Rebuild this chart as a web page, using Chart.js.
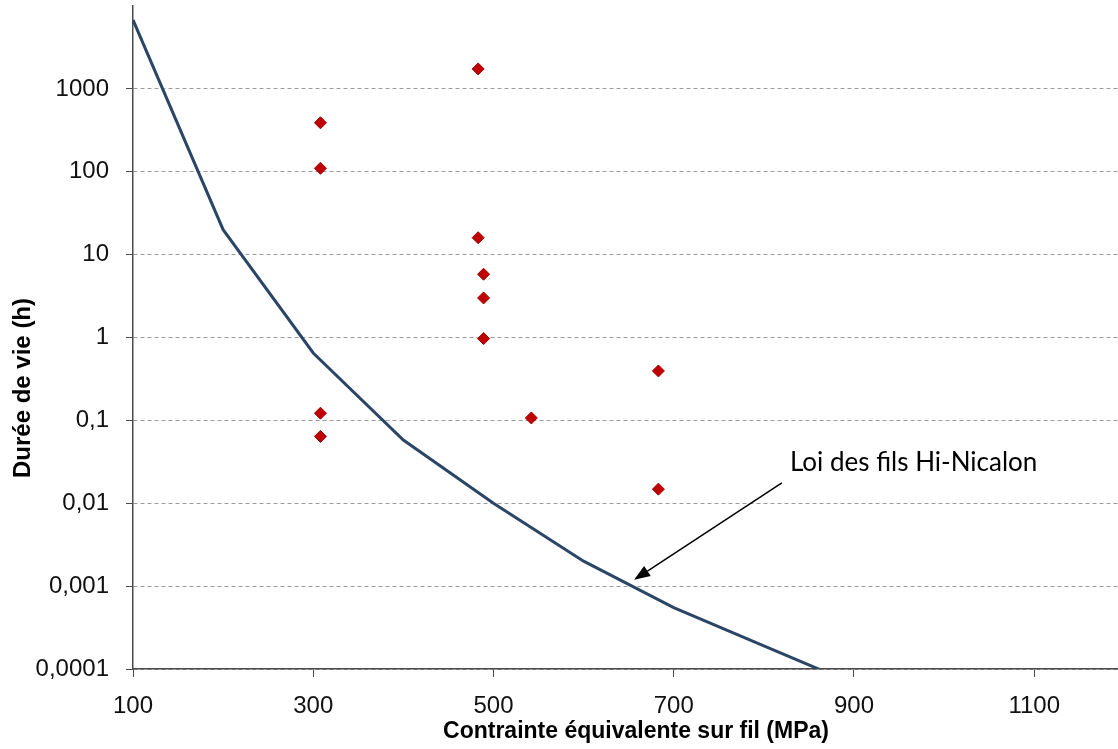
<!DOCTYPE html>
<html>
<head>
<meta charset="utf-8">
<script src="https://cdn.jsdelivr.net/npm/chart.js@4/dist/chart.umd.min.js"></script>
<style>
  html, body { margin: 0; padding: 0; background: #fff; }
  #wrap { width: 1118px; height: 749px; }
</style>
</head>
<body>
<div id="wrap"><canvas id="chart" width="1118" height="749"></canvas></div>
<script>
// law of the Hi-Nicalon fibres (line)
const lawX = [100, 200, 300, 400, 500, 600, 700, 800, 900];
const lawY = [6800, 20, 0.65, 0.058, 0.01, 0.002, 0.00055, 0.00019, 0.000066];

// test results (diamonds)
const testX = [308, 308, 308, 308, 483, 483, 489, 489, 489, 542, 683, 683];
const testY = [390, 110, 0.122, 0.064, 1740, 16, 5.8, 3.0, 0.97, 0.107, 0.395, 0.0148];

const xTicks = [100, 300, 500, 700, 900, 1100];
const yTicks = [0.0001, 0.001, 0.01, 0.1, 1, 10, 100, 1000];

const xTitle = 'Contrainte équivalente sur fil (MPa)';
const yTitle = 'Durée de vie (h)';
const noteText = 'Loi des fils Hi-Nicalon';

// annotation anchors, in data units
const notePos = {x: 829, y: 0.0246};
const arrowFrom = {x: 820, y: 0.0176};
const arrowTo = {x: 656, y: 0.00119};

const AXIS = '#4a4a4a';
const FONT = "'Liberation Sans', Arial, sans-serif";

const toPoints = (xs, ys) => xs.map((x, i) => ({x, y: ys[i]}));

const extras = {
  id: 'extras',
  afterDatasetsDraw(chart) {
    const {ctx, scales: {x, y}} = chart;
    ctx.save();
    ctx.fillStyle = '#000';

    // axis titles
    ctx.font = `bold 23px ${FONT}`;
    ctx.textAlign = 'center';
    ctx.textBaseline = 'alphabetic';
    ctx.fillText(xTitle, 636, 738);

    ctx.save();
    ctx.translate(30, 388);
    ctx.rotate(-Math.PI / 2);
    ctx.font = `bold 24px ${FONT}`;
    ctx.fillText(yTitle, 0, 0);
    ctx.restore();

    // note + arrow
    ctx.font = "26px Lato, 'Open Sans', sans-serif";
    ctx.textAlign = 'left';
    ctx.fillText(noteText, x.getPixelForValue(notePos.x), y.getPixelForValue(notePos.y));

    const x0 = x.getPixelForValue(arrowFrom.x), y0 = y.getPixelForValue(arrowFrom.y);
    const x1 = x.getPixelForValue(arrowTo.x), y1 = y.getPixelForValue(arrowTo.y);
    const ang = Math.atan2(y1 - y0, x1 - x0);
    const head = 16, half = 6;
    const bx = x1 - head * Math.cos(ang), by = y1 - head * Math.sin(ang);
    ctx.strokeStyle = '#000';
    ctx.lineWidth = 1.5;
    ctx.beginPath();
    ctx.moveTo(x0, y0);
    ctx.lineTo(bx, by);
    ctx.stroke();
    ctx.beginPath();
    ctx.moveTo(x1, y1);
    ctx.lineTo(bx + half * Math.sin(ang), by - half * Math.cos(ang));
    ctx.lineTo(bx - half * Math.sin(ang), by + half * Math.cos(ang));
    ctx.closePath();
    ctx.fill();
    ctx.restore();
  }
};

new Chart(document.getElementById('chart').getContext('2d'), {
  data: {
    datasets: [
      {
        type: 'scatter',
        label: 'Essais',
        data: toPoints(testX, testY),
        pointStyle: 'rectRot',
        pointRadius: 6,
        backgroundColor: '#c00000',
        borderColor: '#a00000',
        borderWidth: 1,
        order: 1,
      },
      {
        type: 'line',
        label: 'Loi des fils Hi-Nicalon',
        data: toPoints(lawX, lawY),
        borderColor: '#2b4567',
        borderWidth: 3,
        pointRadius: 0,
        tension: 0,
        clip: 0,
        order: 2,
      },
    ],
  },
  options: {
    responsive: false,
    animation: false,
    events: [],
    layout: {autoPadding: false, padding: {top: 6, right: 0, bottom: 0, left: 0}},
    plugins: {legend: {display: false}, tooltip: {enabled: false}},
    scales: {
      x: {
        type: 'linear',
        min: 100,
        max: 1193,
        afterBuildTicks: (s) => { s.ticks = xTicks.map(v => ({value: v})); },
        afterFit: (s) => { s.height = 80; s.paddingLeft = 0; s.paddingRight = 0; },
        ticks: {
          color: '#111',
          font: {family: FONT, size: 24},
          padding: 15,
          maxRotation: 0,
          callback: (v) => String(v),
        },
        grid: {color: 'transparent', tickColor: AXIS, tickLength: 8, drawOnChartArea: false},
        border: {color: AXIS, width: 1.5},
      },
      y: {
        type: 'logarithmic',
        min: 0.0001,
        max: 10000,
        afterBuildTicks: (s) => { s.ticks = yTicks.map(v => ({value: v})); },
        afterFit: (s) => { s.width = 133; s.paddingTop = 0; s.paddingBottom = 0; },
        ticks: {
          color: '#111',
          font: {family: FONT, size: 24},
          padding: 17,
          callback: (v) => String(v).replace('.', ','),
        },
        grid: {color: '#9a9a9a', tickColor: AXIS, tickLength: 7, tickBorderDash: [], lineWidth: 1},
        border: {color: AXIS, width: 1.5, dash: [4, 3]},
      },
    },
  },
  plugins: [extras],
});
</script>
</body>
</html>
